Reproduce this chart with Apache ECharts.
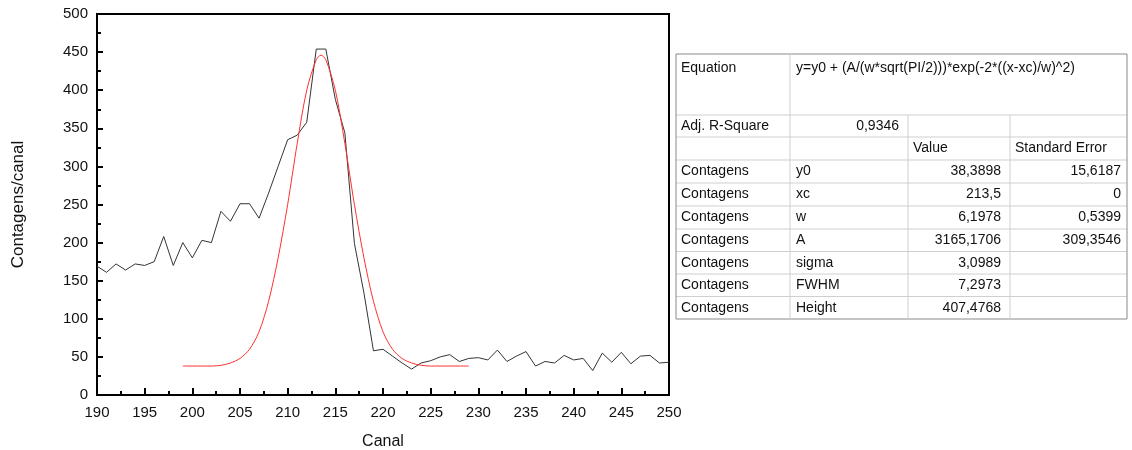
<!DOCTYPE html>
<html>
<head>
<meta charset="utf-8">
<script src="https://cdn.jsdelivr.net/npm/echarts@6/dist/echarts.min.js"></script>
<style>
  html, body { margin: 0; padding: 0; background: #fff; }
  #chart { width: 1132px; height: 450px; }
</style>
</head>
<body>
<div id="chart"></div>
<script>
// measured counts per channel
var canal = [];
for (var c = 190; c <= 250; c++) canal.push(c);
var contagens = [169,161,172,164,172,170,175,208,170,200,
                 180,203,200,241,228,251,251,232,265,300,
                 335,341,358,454,454,388,344,199,134,58,
                 60,51,42,34,42,45,50,53,44,48,
                 49,46,59,44,51,57,38,44,42,52,
                 46,48,32,55,43,56,41,51,52,42,
                 43];

// gaussian fit curve
var fitX = [199,200,201,202,203,204,205,206,207,208,209,210,211,212,213,213.5,
            214,215,216,217,218,219,220,221,222,223,224,225,226,227,228,229];
var fitY = [38,38,38,38,39,42,48,60,83,123,180,250,330,400,440,446,
            440,400,330,250,180,123,83,60,48,42,39,38,38,38,38,38];

var xTicks = [190,195,200,205,210,215,220,225,230,235,240,245,250];

// fit results table
var tableRows = [
  ['Equation', 'y=y0 + (A/(w*sqrt(PI/2)))*exp(-2*((x-xc)/w)^2)', '', ''],
  ['Adj. R-Square', '0,9346', '', ''],
  ['', '', 'Value', 'Standard Error'],
  ['Contagens', 'y0', '38,3898', '15,6187'],
  ['Contagens', 'xc', '213,5', '0'],
  ['Contagens', 'w', '6,1978', '0,5399'],
  ['Contagens', 'A', '3165,1706', '309,3546'],
  ['Contagens', 'sigma', '3,0989', ''],
  ['Contagens', 'FWHM', '7,2973', ''],
  ['Contagens', 'Height', '407,4768', '']
];

var colX = [676, 790, 908, 1010, 1127];
var rowY = [54, 115, 137, 160, 183, 206, 229, 251.5, 274, 296.5, 319];

function buildTable() {
  var els = [];
  var font = '14px "Liberation Sans", Arial, sans-serif';
  // horizontal lines
  for (var i = 0; i < rowY.length; i++) {
    var outer = (i === 0 || i === rowY.length - 1);
    els.push({type: 'line', silent: true,
      shape: {x1: colX[0], y1: rowY[i], x2: colX[4], y2: rowY[i]},
      style: {stroke: outer ? '#8a8a8a' : '#cfcfcf', lineWidth: 1}});
  }
  // vertical lines
  for (var j = 0; j < colX.length; j++) {
    var top = (j === 2 || j === 3) ? rowY[1] : rowY[0];
    var outerV = (j === 0 || j === colX.length - 1);
    els.push({type: 'line', silent: true,
      shape: {x1: colX[j], y1: top, x2: colX[j], y2: rowY[rowY.length - 1]},
      style: {stroke: outerV ? '#8a8a8a' : '#cfcfcf', lineWidth: 1}});
  }
  // cell texts
  tableRows.forEach(function (row, r) {
    var yMid = r === 0 ? rowY[0] + 14 : (rowY[r] + rowY[r + 1]) / 2;
    row.forEach(function (txt, k) {
      if (!txt) return;
      var x, align;
      if (k === 0) { x = colX[0] + 5; align = 'left'; }
      else if (k === 1 && (r === 0 || r > 2)) { x = colX[1] + 6; align = 'left'; }
      else if (k === 1) { x = colX[2] - 9; align = 'right'; }
      else if (r === 2) { x = colX[k] + 5; align = 'left'; }
      else if (k === 2) { x = colX[3] - 9; align = 'right'; }
      else { x = colX[4] - 6; align = 'right'; }
      els.push({type: 'text', silent: true,
        style: {text: txt, x: x, y: yMid, font: font, fill: '#111',
                textAlign: align, verticalAlign: 'middle', textVerticalAlign: 'middle'}});
    });
  });
  return els;
}

var myChart = echarts.init(document.getElementById('chart'));

var option = {
  animation: false,
  grid: {
    left: 97, right: 463, top: 14, bottom: 55,
    outerBoundsMode: 'none',
    containLabel: false,
    show: true, borderColor: '#000', borderWidth: 2
  },
  xAxis: {
    type: 'value', min: 190, max: 250, interval: 5,
    name: 'Canal', nameLocation: 'middle', nameGap: 39,
    nameTextStyle: {fontSize: 16, color: '#111', fontFamily: '"Liberation Sans", Arial, sans-serif'},
    axisLine: {lineStyle: {color: '#000', width: 2}},
    axisTick: {inside: true, length: 7, lineStyle: {color: '#000', width: 2}},
    minorTick: {show: true, splitNumber: 2, length: 4, lineStyle: {color: '#000', width: 2}},
    axisLabel: {margin: 10, fontSize: 15, color: '#111', fontFamily: '"Liberation Sans", Arial, sans-serif',
      formatter: function (v) { return xTicks.indexOf(v) >= 0 ? String(v) : ''; }},
    splitLine: {show: false}
  },
  yAxis: {
    type: 'value', min: 0, max: 500, interval: 50,
    name: 'Contagens/canal', nameLocation: 'middle', nameGap: 70,
    nameTextStyle: {fontSize: 17, color: '#111', fontFamily: '"Liberation Sans", Arial, sans-serif'},
    axisLine: {lineStyle: {color: '#000', width: 2}},
    axisTick: {inside: true, length: 6, lineStyle: {color: '#000', width: 2}},
    minorTick: {show: true, splitNumber: 2, length: 4, lineStyle: {color: '#000', width: 2}},
    axisLabel: {margin: 9, fontSize: 15, color: '#111', fontFamily: '"Liberation Sans", Arial, sans-serif'},
    splitLine: {show: false}
  },
  series: [
    {
      name: 'Contagens', type: 'line', symbol: 'none',
      data: canal.map(function (x, i) { return [x, contagens[i]]; }),
      lineStyle: {color: '#333', width: 1}
    },
    {
      name: 'Fit', type: 'line', symbol: 'none', smooth: 0.3,
      data: fitX.map(function (x, i) { return [x, fitY[i]]; }),
      lineStyle: {color: '#ff3030', width: 1}
    }
  ],
  graphic: buildTable()
};

myChart.setOption(option);
window.addEventListener('resize', function () {
  myChart.resize();
});
</script>
</body>
</html>
